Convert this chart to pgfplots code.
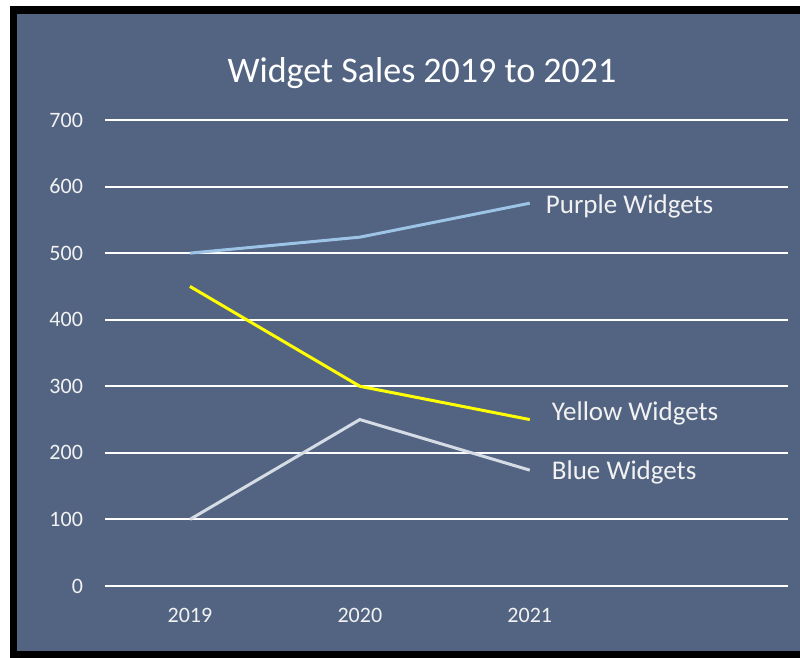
\documentclass[border=0pt]{standalone}
\usepackage{pgfplots}
\pgfplotsset{compat=1.18}
\usepackage{fontspec}
\setmainfont{Carlito}
\definecolor{bgblue}{HTML}{526482}
\definecolor{purpleline}{HTML}{9DC3E6}
\definecolor{blueline}{HTML}{D6DCE5}
\definecolor{yellowline}{HTML}{FFFF00}
\definecolor{txt}{HTML}{F2F2F2}
\begin{document}
\begin{tikzpicture}
\useasboundingbox (0,0) rectangle (400pt,329pt);
\fill[white] (0,0) rectangle (400pt,329pt);
\fill[black] (5pt,0) rectangle (400pt,326pt);
\fill[bgblue] (8.5pt,3.5pt) rectangle (400pt,322pt);
\node[text=white, font=\fontsize{18}{20}\selectfont] at (211pt,292.5pt) {Widget Sales 2019 to 2021};
\begin{axis}[
  at={(52.5pt,36pt)}, anchor=south west,
  scale only axis,
  width=341.5pt, height=233pt,
  xmin=-0.5, xmax=3.52,
  ymin=0, ymax=700,
  xtick={0,1,2}, xticklabels={2019,2020,2021},
  ytick={0,100,...,700},
  axis line style={draw=none},
  major tick length=0pt,
  ymajorgrids,
  grid style={white, line width=1pt},
  /pgf/number format/assume math mode=true,
  tick label style={text=txt, font=\fontsize{11}{13}\selectfont},
  yticklabel style={xshift=-7.5pt},
  xticklabel style={yshift=-7.5pt},
  clip=false,
]
\addplot[purpleline, line width=1.5pt] coordinates {(0,500) (1,524) (2,575)}
  node[pos=1, anchor=west, xshift=4pt, yshift=-1.5pt, text=txt, font=\fontsize{13.5}{15}\selectfont] {Purple Widgets};
\addplot[yellowline, line width=1.5pt] coordinates {(0,450) (1,300) (2,250)}
  node[pos=1, anchor=west, xshift=7pt, yshift=3pt, text=txt, font=\fontsize{13.5}{15}\selectfont] {Yellow Widgets};
\addplot[blueline, line width=1.5pt] coordinates {(0,100) (1,250) (2,174)}
  node[pos=1, anchor=west, xshift=7pt, yshift=-1pt, text=txt, font=\fontsize{13.5}{15}\selectfont] {Blue Widgets};
\end{axis}
\end{tikzpicture}
\end{document}
